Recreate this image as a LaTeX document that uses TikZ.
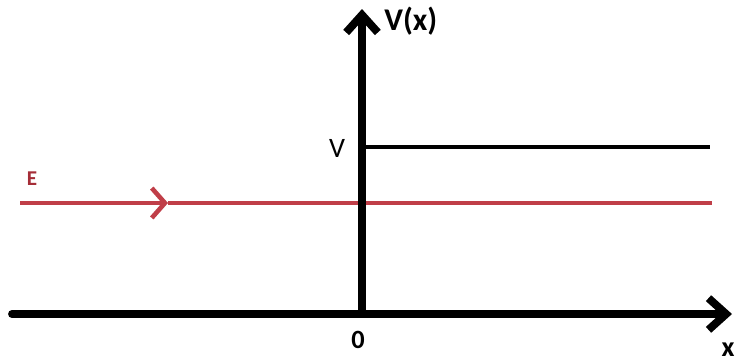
\documentclass[tikz,border=0pt]{standalone}
\usepackage{fontspec}
\setmainfont{Carlito}
\usepackage{xcolor}
\usetikzlibrary{arrows.meta}

\definecolor{energyred}{RGB}{192,62,72}
\definecolor{labelred}{RGB}{165,45,55}

\begin{document}
\begin{tikzpicture}[
    x=0.02cm, y=-0.02cm,
    axis/.style={draw=black, line width=4.5pt, -{Straight Barb[length=10pt, width=18pt, line width=4.5pt]}},
    potential/.style={draw=black, line width=2.5pt},
    energy/.style={draw=energyred, line width=2.5pt},
    lbl/.style={font=\bfseries, inner sep=0pt}
]
    \useasboundingbox (0,0) rectangle (735,363);

    % Key points
    \coordinate (origin) at (362,314);
    \coordinate (xleft) at (12,314);
    \coordinate (xright) at (732,314);
    \coordinate (ytop) at (362,9);
    \coordinate (stepleft) at (362,147);
    \coordinate (stepright) at (710,147);
    \coordinate (eleft) at (20,203);
    \coordinate (emid) at (168,203);
    \coordinate (eright) at (712,203);

    % Energy level with direction mark
    \draw[energy, -{Straight Barb[length=7.5pt, width=17pt, line width=2.6pt]}] (eleft) -- (emid);
    \draw[energy] (emid) -- (eright);

    % Step potential
    \draw[potential] (stepleft) -- (stepright);

    % Axes
    \draw[axis, line cap=round] (xleft) -- (xright);
    \draw[axis] (origin) -- (ytop);

    % Labels
    \node[lbl, anchor=west, font=\fontsize{18}{21}\selectfont\bfseries] (vxlabel) at (384,21) {V(x)};
    \node[inner sep=0pt, font=\fontsize{16}{19}\selectfont] (vlabel) at (337,148) {V};
    \node[lbl, text=labelred, font=\fontsize{12}{14}\selectfont\bfseries] (elabel) at (32,179) {E};
    \node[lbl, font=\fontsize{15}{18}\selectfont\bfseries] (zerolabel) at (358,340) {0};
    \node[lbl, font=\fontsize{16}{19}\selectfont\bfseries] (xlabel) at (728,350) {x};
\end{tikzpicture}
\end{document}
